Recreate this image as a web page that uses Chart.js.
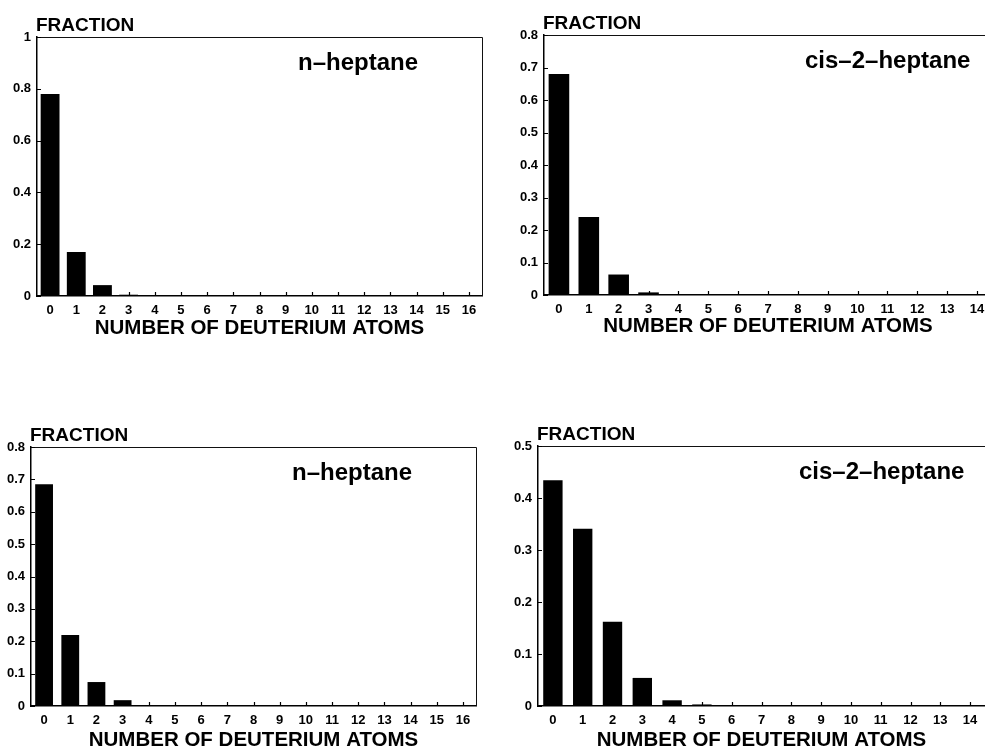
<!DOCTYPE html>
<html>
<head>
<meta charset="utf-8">
<title>Deuterium distribution</title>
<script src="https://cdn.jsdelivr.net/npm/chart.js@4.4.1/dist/chart.umd.min.js"></script>
<style>
  html, body { margin: 0; padding: 0; background: #fff; }
  body { width: 985px; height: 750px; overflow: hidden; position: relative; }
  canvas { position: absolute; }
</style>
</head>
<body>
<canvas id="c1" width="490" height="350" style="left:0;top:0"></canvas>
<canvas id="c2" width="510" height="350" style="left:490px;top:0"></canvas>
<canvas id="c3" width="490" height="350" style="left:0;top:410px"></canvas>
<canvas id="c4" width="510" height="350" style="left:490px;top:410px"></canvas>
<script>
// number of deuterium atoms (x axis categories)
const atoms0to16 = ['0', '1', '2', '3', '4', '5', '6', '7', '8', '9', '10', '11', '12', '13', '14', '15', '16'];
const atoms0to14 = ['0', '1', '2', '3', '4', '5', '6', '7', '8', '9', '10', '11', '12', '13', '14'];

// fraction of molecules with n deuterium atoms
const nHeptaneTop = [0.78, 0.17, 0.042, 0.005, 0.002, 0.001, 0, 0, 0, 0, 0, 0, 0, 0, 0, 0, 0];
const cis2HeptaneTop = [0.68, 0.24, 0.063, 0.008, 0.002, 0.001, 0, 0, 0, 0, 0, 0, 0, 0, 0];
const nHeptaneBottom = [0.685, 0.219, 0.074, 0.018, 0.001, 0, 0, 0, 0, 0, 0, 0, 0, 0, 0, 0, 0];
const cis2HeptaneBottom = [0.434, 0.341, 0.162, 0.054, 0.011, 0.003, 0.001, 0, 0, 0, 0, 0, 0, 0, 0];

// y axis ranges
const yMaxes = [1, 0.8, 0.8, 0.5];
const ySteps = [0.2, 0.1, 0.1, 0.1];

const FONT = '"Liberation Sans", Arial, Helvetica, sans-serif';

// frame, inward tick marks, "FRACTION" and compound name
const panelDecor = {
  id: 'panelDecor',
  afterDraw(chart, args, opts) {
    const { ctx, chartArea: a, scales: { x, y } } = chart;
    ctx.save();
    ctx.strokeStyle = '#111';
    ctx.lineWidth = 1;
    ctx.beginPath();
    ctx.moveTo(a.left, a.top + 0.5);
    ctx.lineTo(a.right + 0.5, a.top + 0.5);
    ctx.lineTo(a.right + 0.5, a.bottom);
    ctx.stroke();

    ctx.lineWidth = 1.2;
    ctx.strokeStyle = '#000';
    ctx.beginPath();
    x.ticks.forEach((t, i) => {
      const px = Math.round(x.getPixelForTick(i)) + 0.5;
      ctx.moveTo(px, a.bottom);
      ctx.lineTo(px, a.bottom - 4);
    });
    y.ticks.forEach((t, i) => {
      const py = Math.round(y.getPixelForTick(i)) + 0.5;
      ctx.moveTo(a.left, py);
      ctx.lineTo(a.left + 4, py);
    });
    ctx.stroke();

    ctx.fillStyle = '#000';
    ctx.textAlign = 'left';
    ctx.textBaseline = 'alphabetic';
    ctx.font = 'bold 19px ' + FONT;
    ctx.fillText('FRACTION', a.left - 1, a.top - 6);
    ctx.font = 'bold 24px ' + FONT;
    ctx.textBaseline = 'middle';
    ctx.fillText(opts.name, a.left + 261, a.top + 26);
    ctx.restore();
  }
};

function drawPanel(id, labels, values, name, yMax, yStep, barPct, box) {
  return new Chart(document.getElementById(id), {
    type: 'bar',
    data: {
      labels,
      datasets: [{
        data: values,
        backgroundColor: '#000',
        borderWidth: 0,
        categoryPercentage: 1,
        barPercentage: barPct
      }]
    },
    options: {
      responsive: false,
      animation: false,
      devicePixelRatio: 1,
      layout: { padding: { top: box.top, right: box.right, bottom: 0, left: 0 } },
      plugins: {
        legend: { display: false },
        tooltip: { enabled: false },
        panelDecor: { name }
      },
      scales: {
        x: {
          offset: true,
          grid: { display: false, drawTicks: false },
          border: { display: true, color: '#000', width: 1.5 },
          ticks: {
            color: '#000',
            font: { family: FONT, size: 13, weight: 'bold' },
            padding: 7,
            maxRotation: 0,
            autoSkip: false
          },
          title: {
            display: true,
            text: 'NUMBER OF DEUTERIUM ATOMS',
            color: '#000',
            font: { family: FONT, size: 20.5, weight: 'bold' },
            padding: { top: 0, bottom: box.titlePad }
          },
          afterFit(s) { s.height = box.xh; }
        },
        y: {
          min: 0,
          max: yMax,
          grid: { display: false, drawTicks: false },
          border: { display: true, color: '#000', width: 1.5 },
          ticks: {
            stepSize: yStep,
            color: '#000',
            font: { family: FONT, size: 13, weight: 'bold' },
            padding: 6,
            callback: v => String(Number(v.toFixed(2)))
          },
          afterFit(s) { s.width = box.yw; }
        }
      }
    },
    plugins: [panelDecor]
  });
}

drawPanel('c1', atoms0to16, nHeptaneTop, 'n\u2013heptane', yMaxes[0], ySteps[0], 0.72,
  { top: 37, right: 8, yw: 37, xh: 54, titlePad: 9 });
drawPanel('c2', atoms0to14, cis2HeptaneTop, 'cis\u20132\u2013heptane', yMaxes[1], ySteps[1], 0.69,
  { top: 35, right: 8, yw: 54, xh: 55, titlePad: 11 });
drawPanel('c3', atoms0to16, nHeptaneBottom, 'n\u2013heptane', yMaxes[2], ySteps[2], 0.68,
  { top: 37, right: 14, yw: 31, xh: 54, titlePad: 7 });
drawPanel('c4', atoms0to14, cis2HeptaneBottom, 'cis\u20132\u2013heptane', yMaxes[3], ySteps[3], 0.65,
  { top: 36, right: 15, yw: 48, xh: 54, titlePad: 7 });
</script>
</body>
</html>
